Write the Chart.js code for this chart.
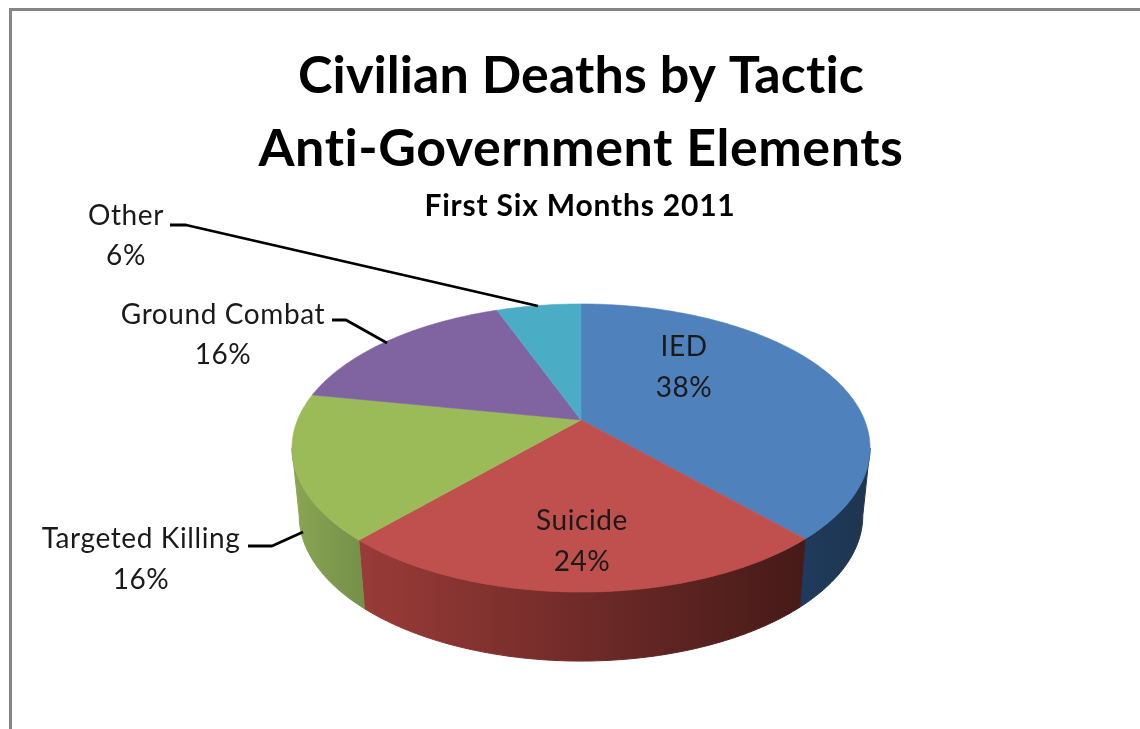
<!DOCTYPE html>
<html><head><meta charset="utf-8">
<style>html,body{margin:0;padding:0;background:#fff;width:1140px;height:729px;overflow:hidden}
#w{position:absolute;left:0;top:0;width:1140px;height:729px}</style>
<script src="https://cdn.jsdelivr.net/npm/chart.js@4"></script></head>
<body><div id="w"><canvas id="c" width="1140" height="729"></canvas></div>
<script>
const categories = ["IED","Suicide","Targeted Killing","Ground Combat","Other"];
const shares = [38.15,23.55,16.3,16.3,5.7];
const topColors = ["#4f81bd","#c0504d","#9bbb59","#8064a2","#4bacc6"];
const wallStops = [["#1f3a5c","#1f3550"],["#9a3b38","#451a18"],["#8aa552","#76924a"],["#5d4a78","#5d4a78"],["#357d90","#357d90"]];
const titleLines = ["Civilian Deaths by Tactic","Anti-Government Elements"];
const subtitleText = "First Six Months 2011";
const FONT = 'Lato, "Open Sans", sans-serif';
const P = {cx:581, cy:420, a:283.5, b:138.6, k:0.1945, depth:69};

function proj(angle){ // chart.js angle: 0 = +x, clockwise on screen
  const u=Math.cos(angle), v=Math.sin(angle), d=1-P.k*v;
  return [P.cx+P.a*u/d, P.cy+P.b*v/d];
}
function low(p){ const t=(p[1]-304)/288; return [P.cx+(p[0]-P.cx)*0.975, p[1]+P.depth-3*(1-t)]; }
function samples(s,e){ const n=Math.max(4,Math.ceil((e-s)*60)), r=[]; for(let i=0;i<=n;i++) r.push(s+(e-s)*i/n); return r; }

const pseudo3d = {
  id:'pseudo3d',
  beforeDatasetDraw(chart,args){
    const ctx=chart.ctx, arcs=chart.getDatasetMeta(args.index).data;
    ctx.save();
    const wideA=Math.asin(P.k);
    arcs.forEach((arc,i)=>{
      let s=Math.max(arc.startAngle,-Math.PI/2), e=arc.endAngle;
      const lo=Math.max(s,wideA), hi=Math.min(e,Math.PI-wideA);
      if(hi<=lo) return;
      const pts=samples(lo,hi).map(proj), bot=pts.map(low);
      const x0=Math.min(...pts.map(p=>p[0])), x1=Math.max(...pts.map(p=>p[0]));
      const g=ctx.createLinearGradient(x0,0,x1,0);
      const w=wallStops[i];
      g.addColorStop(0,w[0]); g.addColorStop(1,w[1]);
      ctx.fillStyle=g; ctx.strokeStyle=g; ctx.lineWidth=1;
      ctx.beginPath();
      pts.forEach((p,j)=>j?ctx.lineTo(p[0],p[1]):ctx.moveTo(p[0],p[1]));
      bot.reverse().forEach(p=>ctx.lineTo(p[0],p[1]));
      ctx.closePath(); ctx.fill(); ctx.stroke();
    });
    arcs.forEach((arc,i)=>{
      ctx.fillStyle=arc.options.backgroundColor;
      ctx.strokeStyle=arc.options.backgroundColor; ctx.lineWidth=0.6;
      ctx.beginPath(); ctx.moveTo(P.cx,P.cy);
      samples(arc.startAngle,arc.endAngle).map(proj).forEach(p=>ctx.lineTo(p[0],p[1]));
      ctx.closePath(); ctx.fill(); ctx.stroke();
    });
    ctx.restore();
    return false;
  },
  afterDraw(chart){
    const ctx=chart.ctx;
    ctx.save();
    ctx.strokeStyle='#858585'; ctx.lineWidth=3;
    ctx.beginPath(); ctx.moveTo(10.5,729); ctx.lineTo(10.5,9.5); ctx.lineTo(1140,9.5); ctx.stroke();
    ctx.fillStyle='#000'; ctx.textAlign='center'; ctx.textBaseline='alphabetic';
    ctx.font='bold 52px '+FONT;
    ctx.fontVariantLigatures='none';
    ctx.letterSpacing='0.1px';
    ctx.fillText(titleLines[0],581,93);
    ctx.letterSpacing='0.55px';
    ctx.fillText(titleLines[1],581,166);
    ctx.font='bold 30px '+FONT;
    ctx.letterSpacing='0.8px';
    ctx.fillText(subtitleText,580,216);
    const lab=[[684,356,684,397],[582,530,582,571],[141,548,141,589],[223,324,223,364],[126,225,126,265]];
    ctx.font='28px '+FONT; ctx.fillStyle='#1a1a1a'; ctx.letterSpacing='0.6px';
    categories.forEach((c,i)=>{
      ctx.fillText(c,lab[i][0],lab[i][1]);
      ctx.fillText(Math.round(shares[i])+'%',lab[i][2],lab[i][3]);
    });
    ctx.strokeStyle='#000'; ctx.lineWidth=2.8; ctx.lineJoin='round';
    [[[170,225],[186,225],[538,306]],[[332,320],[346,320],[387,343]],[[248,546],[272,546],[303,532]]].forEach(l=>{
      ctx.beginPath(); l.forEach((p,j)=>j?ctx.lineTo(p[0],p[1]):ctx.moveTo(p[0],p[1])); ctx.stroke();
    });
    ctx.restore();
  }
};

new Chart(document.getElementById('c'),{
  type:'pie',
  data:{labels:categories,datasets:[{data:shares,backgroundColor:topColors,borderWidth:0}]},
  options:{responsive:false,animation:false,devicePixelRatio:1,
    plugins:{legend:{display:false},tooltip:{enabled:false},title:{display:false}}},
  plugins:[pseudo3d]
});
</script></body></html>
